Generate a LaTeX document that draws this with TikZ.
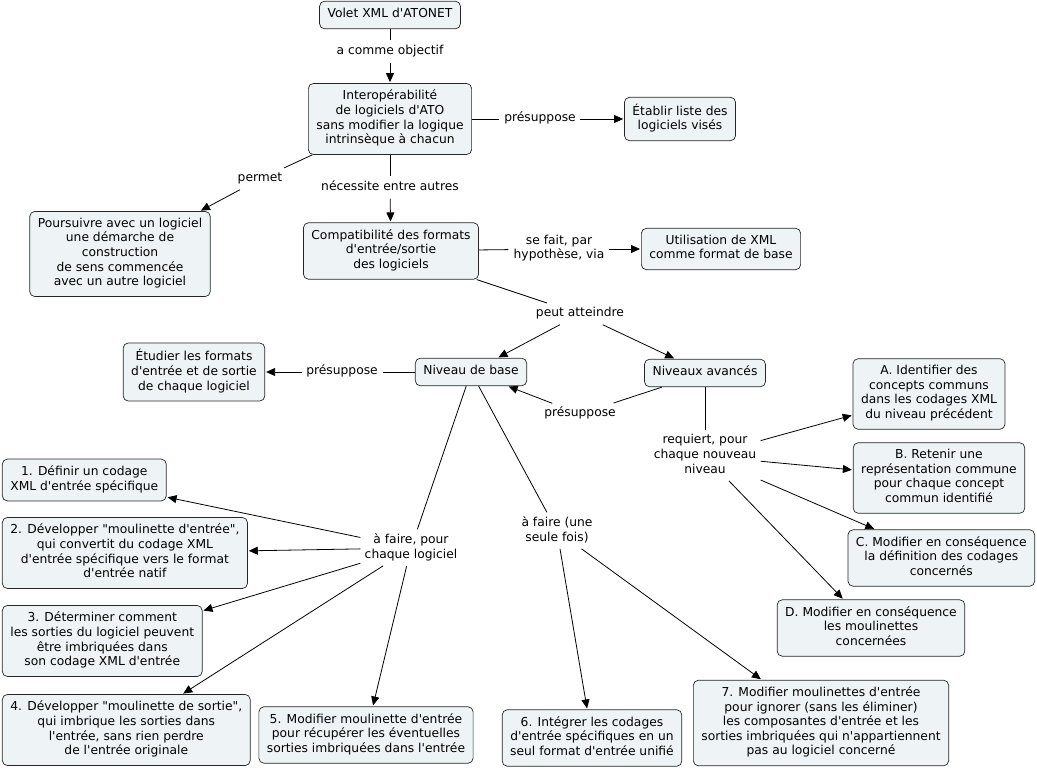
\documentclass[tikz,border=0pt]{standalone}
\usepackage{fontspec}
\newfontfamily\mapfont{DejaVu Sans}
\usetikzlibrary{arrows.meta}
\definecolor{conceptfill}{RGB}{238,244,246}

\begin{document}
\begin{tikzpicture}[x=1pt,y=-1pt,-,>={Triangle[length=9pt,width=8pt]},shorten >=1pt,
  line width=0.8pt,
  every node/.style={font={\mapfont\fontsize{12.3}{14.6}\selectfont},align=center,
    execute at begin node=\strut,execute at end node=\strut},
  concept node/.style={draw=black!85,fill=conceptfill,rounded corners=5pt,
    inner xsep=8pt,inner ysep=6.5pt,line width=0.7pt},
  link node/.style={inner xsep=4pt,inner ysep=3pt}]

  \useasboundingbox (0,0) rectangle (1037,771);

  % concepts
  \node[concept node] (volet) at (390,15) {Volet XML d'ATONET};
  \node[concept node] (interop) at (390,119) {Interopérabilité\\de logiciels d'ATO\\sans modifier la logique\\intrinsèque à chacun};
  \node[concept node] (liste) at (680,119) {Établir liste des\\logiciels visés};
  \node[concept node] (poursuivre) at (120,254) {Poursuivre avec un logiciel\\une démarche de\\construction\\de sens commencée\\avec un autre logiciel};
  \node[concept node] (compat) at (391,251) {Compatibilité des formats\\d'entrée/sortie\\des logiciels};
  \node[concept node] (xml) at (721,249) {Utilisation de XML\\comme format de base};
  \node[concept node] (etudier) at (194,372) {Étudier les formats\\d'entrée et de sortie\\de chaque logiciel};
  \node[concept node] (base) at (471,372) {Niveau de base};
  \node[concept node] (avances) at (705,373) {Niveaux avancés};
  \node[concept node] (a) at (929,394) {A. Identifier des\\concepts communs\\dans les codages XML\\du niveau précédent};
  \node[concept node] (b) at (939,478) {B. Retenir une\\représentation commune\\pour chaque concept\\commun identifié};
  \node[concept node, anchor=east] (c) at (1035,558) {C. Modifier en conséquence\\la définition des codages\\concernés};
  \node[concept node] (d) at (871,628) {D. Modifier en conséquence\\les moulinettes\\concernées};
  \node[concept node, anchor=west] (e1) at (2,480) {1. Définir un codage\\XML d'entrée spécifique};
  \node[concept node, anchor=west] (e2) at (2,553) {2. Développer "moulinette d'entrée",\\qui convertit du codage XML\\d'entrée spécifique vers le format\\d'entrée natif};
  \node[concept node, anchor=west] (e3) at (2,641) {3. Déterminer comment\\les sorties du logiciel peuvent\\être imbriquées dans\\son codage XML d'entrée};
  \node[concept node, anchor=west] (e4) at (2,730) {4. Développer "moulinette de sortie",\\qui imbrique les sorties dans\\l'entrée, sans rien perdre\\de l'entrée originale};
  \node[concept node] (e5) at (366,735) {5. Modifier moulinette d'entrée\\pour récupérer les éventuelles\\sorties imbriquées dans l'entrée};
  \node[concept node] (e6) at (592,738) {6. Intégrer les codages\\d'entrée spécifiques en un\\seul format d'entrée unifié};
  \node[concept node] (e7) at (821,723) {7. Modifier moulinettes d'entrée\\pour ignorer (sans les éliminer)\\les composantes d'entrée et les\\sorties imbriquées qui n'appartiennent\\pas au logiciel concerné};

  % linking phrases
  \node[link node] (objectif) at (390,52) {a comme objectif};
  \node[link node] (presup1) at (540,119) {présuppose};
  \node[link node] (permet) at (260,179) {permet};
  \node[link node] (necessite) at (390,188) {nécessite entre autres};
  \node[link node] (via) at (559,249) {se fait, par\\hypothèse, via};
  \node[link node] (atteindre) at (580,314) {peut atteindre};
  \node[link node] (presup2) at (342,372) {présuppose};
  \node[link node] (presup3) at (580,414) {présuppose};
  \node[link node] (requiert) at (705,456) {requiert, pour\\chaque nouveau\\niveau};
  \node[link node] (chaque) at (411,548) {à faire, pour\\chaque logiciel};
  \node[link node] (seule) at (557,531) {à faire (une\\seule fois)};

  \path
    (volet) edge (objectif)
    (objectif) edge[->] (interop)
    (interop) edge (presup1)
    (presup1) edge[->] (liste)
    (interop) edge (permet)
    (permet) edge[->] (poursuivre)
    (interop) edge (necessite)
    (necessite) edge[->] (compat)
    (compat) edge (via)
    (via) edge[->] (xml)
    (compat) edge (atteindre)
    (atteindre) edge[->] (base)
    (atteindre) edge[->] (avances)
    (base) edge (presup2)
    (presup2) edge[->] (etudier)
    (avances) edge (presup3)
    (presup3) edge[->] (base)
    (avances) edge (requiert)
    (requiert) edge[->] (a)
    (requiert) edge[->] (b)
    (requiert) edge[->] (c)
    (requiert) edge[->] (d)
    (base) edge (chaque)
    (chaque) edge[->] (e1)
    (chaque) edge[->] (e2)
    (chaque) edge[->] (e3)
    (chaque) edge[->] (e4)
    (chaque) edge[->] (e5)
    (base) edge (seule)
    (seule) edge[->] (e6)
    (seule) edge[->] (e7);
\end{tikzpicture}
\end{document}
